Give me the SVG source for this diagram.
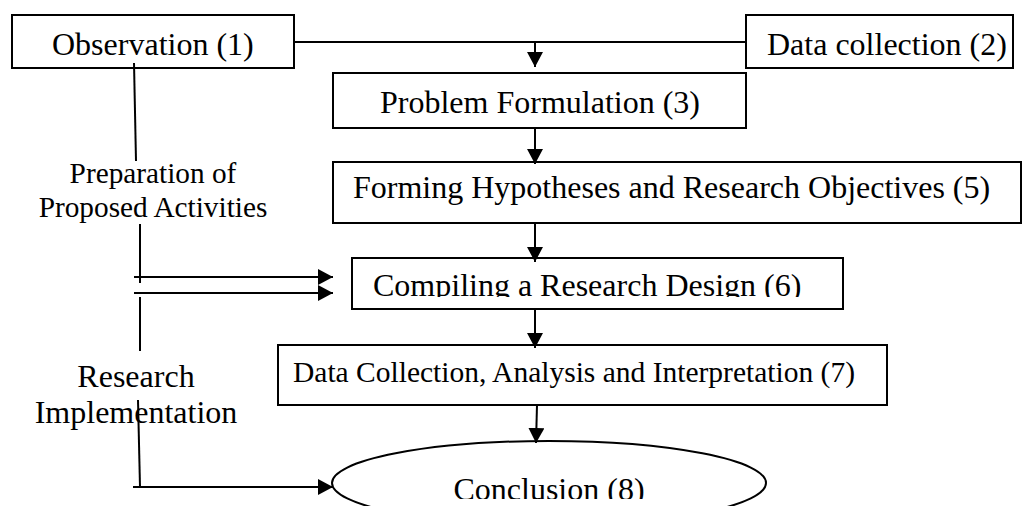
<svg xmlns="http://www.w3.org/2000/svg" width="1023" height="506" viewBox="0 0 1023 506">
  <style>
    .box { fill: #fff; stroke: #000; stroke-width: 2; }
    .t { font-family: "Liberation Serif", "Times New Roman", serif; font-size: 32px; fill: #000; }
    .s { font-size: 29.3px; }
    .ln { fill: none; stroke: #000; stroke-width: 2; }
    .arr { fill: none; stroke: #000; stroke-width: 2; marker-end: url(#head); }
  </style>
  <defs>
    <marker id="head" viewBox="0 0 15 16" refX="15" refY="8" markerWidth="15" markerHeight="16" markerUnits="userSpaceOnUse" orient="auto">
      <path d="M0,0 L15,8 L0,16 Z" fill="#000"/>
    </marker>
    <clipPath id="clip6"><rect x="352" y="258" width="491" height="39"/></clipPath>
    <clipPath id="clip8"><rect x="330" y="440" width="440" height="59"/></clipPath>
  </defs>
  <rect width="1023" height="506" fill="#fff"/>

  <!-- side labels -->
  <g id="label-preparation">
    <text class="t s" x="153" y="183" text-anchor="middle">Preparation of</text>
    <text class="t s" x="153" y="217" text-anchor="middle">Proposed Activities</text>
  </g>
  <g id="label-implementation">
    <text class="t" x="136" y="387" text-anchor="middle">Research</text>
    <text class="t" x="136" y="423" text-anchor="middle">Implementation</text>
  </g>

  <g id="node-observation">
    <rect class="box" x="12" y="15" width="282" height="53"/>
    <text class="t" x="52" y="55">Observation (1)</text>
  </g>
  <g id="node-data-collection">
    <rect class="box" x="746" y="15" width="267" height="53"/>
    <text class="t" x="767" y="55">Data collection (2)</text>
  </g>
  <g id="node-problem">
    <rect class="box" x="333" y="73" width="413" height="55"/>
    <text class="t" x="380" y="113">Problem Formulation (3)</text>
  </g>
  <g id="node-hypotheses">
    <rect class="box" x="333" y="162" width="688" height="61"/>
    <text class="t" x="353" y="198">Forming Hypotheses and Research Objectives (5)</text>
  </g>
  <g id="node-design">
    <rect class="box" x="352" y="258" width="491" height="51"/>
    <text class="t" x="373" y="296" clip-path="url(#clip6)">Compiling a Research Design (6)</text>
  </g>
  <g id="node-analysis">
    <rect class="box" x="278" y="345" width="609" height="60"/>
    <text class="t" x="293" y="382" style="font-size:29.5px">Data Collection, Analysis and Interpretation (7)</text>
  </g>
  <g id="node-conclusion">
    <ellipse class="box" cx="549" cy="483" rx="217" ry="42"/>
    <text class="t" x="549" y="500" text-anchor="middle" clip-path="url(#clip8)">Conclusion (8)</text>
  </g>

  <g id="connectors">
    <!-- top bar joining (1) and (2), down into (3) -->
    <line class="ln" x1="294" y1="42" x2="746" y2="42"/>
    <line class="arr" x1="535" y1="42" x2="535" y2="67"/>
    <!-- main chain -->
    <line class="arr" x1="535" y1="128" x2="535" y2="164"/>
    <line class="arr" x1="535" y1="223" x2="535" y2="262"/>
    <line class="arr" x1="535" y1="309" x2="535" y2="348"/>
    <line class="arr" x1="537" y1="405" x2="536" y2="443"/>
    <!-- left side rail -->
    <line class="ln" x1="134" y1="63" x2="136" y2="161"/>
    <line class="ln" x1="140" y1="224" x2="140" y2="283"/>
    <line class="ln" x1="140" y1="297" x2="140" y2="351"/>
    <line class="ln" x1="138" y1="400" x2="140" y2="487"/>
    <line class="arr" x1="134" y1="277" x2="333" y2="277"/>
    <line class="arr" x1="134" y1="293" x2="333" y2="293"/>
    <line class="arr" x1="133" y1="487" x2="333" y2="487"/>
  </g>
</svg>
